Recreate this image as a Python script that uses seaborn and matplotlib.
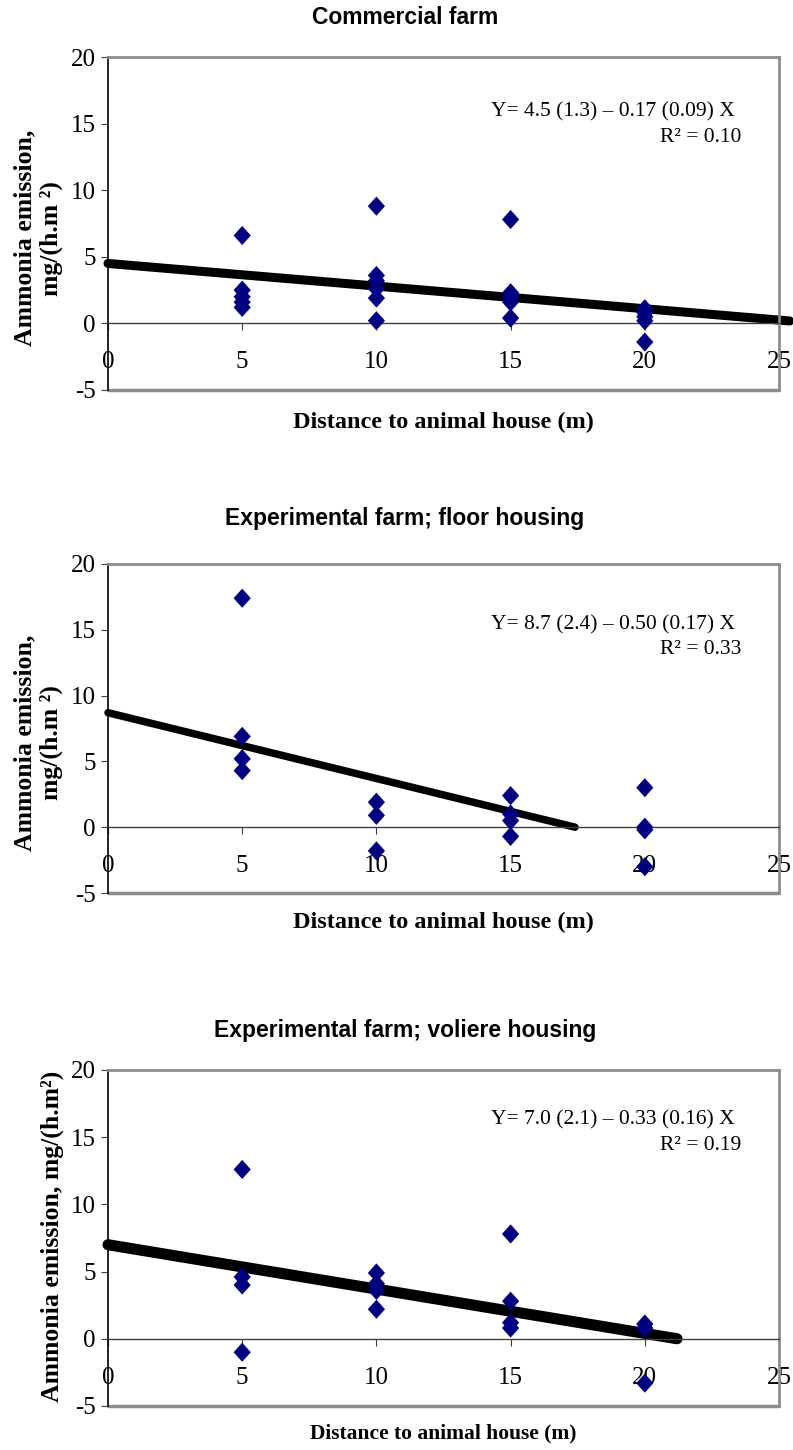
import numpy as np
import pandas as pd
import matplotlib
matplotlib.use('Agg')
import matplotlib.pyplot as plt
from matplotlib.path import Path
from matplotlib.markers import MarkerStyle
import seaborn as sns

sns.set_style('white')
plt.rcParams['font.family'] = ['Liberation Serif', 'DejaVu Serif']
plt.rcParams['axes.unicode_minus'] = False
plt.rcParams.update({'text.color': 'black', 'axes.labelcolor': 'black',
                     'xtick.color': 'black', 'ytick.color': 'black'})

# data
titles = ['Commercial farm',
          'Experimental farm; floor housing',
          'Experimental farm; voliere housing']
equations = ['Y= 4.5 (1.3) – 0.17 (0.09) X',
             'Y= 8.7 (2.4) – 0.50 (0.17) X',
             'Y= 7.0 (2.1) – 0.33 (0.16) X']
r2_labels = ['R² = 0.10', 'R² = 0.33', 'R² = 0.19']
intercepts = [4.5, 8.7, 7.0]
slopes = [-0.17, -0.50, -0.33]
line_end = [25.4, 17.4, 21.2]

commercial_x = [5, 5, 5, 5, 5, 10, 10, 10, 10, 10, 10, 15, 15, 15, 15, 15, 20, 20, 20, 20, 20]
commercial_y = [6.6, 2.5, 2.0, 1.6, 1.2, 8.8, 3.6, 3.2, 2.6, 1.9, 0.2,
                7.8, 2.3, 2.0, 1.6, 0.4, 1.1, 0.8, 0.5, 0.2, -1.4]

floor_x = [5, 5, 5, 5, 10, 10, 10, 15, 15, 15, 15, 20, 20, 20, 20]
floor_y = [17.4, 6.9, 5.2, 4.3, 1.9, 0.9, -1.8, 2.4, 1.0, 0.5, -0.7, 3.0, 0.0, -0.2, -3.0]

voliere_x = [5, 5, 5, 5, 10, 10, 10, 10, 15, 15, 15, 15, 20, 20, 20]
voliere_y = [12.6, 4.6, 4.0, -1.0, 4.9, 4.1, 3.6, 2.2, 7.8, 2.8, 1.2, 0.8, 1.1, 0.8, -3.3]

xs = [commercial_x, floor_x, voliere_x]
ys = [commercial_y, floor_y, voliere_y]

ylabels = ['Ammonia emission,\nmg/(h.m ²)',
           'Ammonia emission,\nmg/(h.m ²)',
           'Ammonia emission, mg/(h.m²)']
xticks = [0, 5, 10, 15, 20, 25]
yticks = [-5, 0, 5, 10, 15, 20]

# layout in pixels (figure is 793 x 1450)
W, H = 793, 1450
ax_left, ax_right = 108, 779
ax_top_bottom = [(57, 390), (564, 893), (1070, 1406)]
title_y = [18, 518, 1030]
eq_y = [(112, 137), (625, 650), (1120, 1145)]
xlabel_y = [422, 922, 1433]
xlabel_size = [17.5, 17.5, 15.5]
ylabel_x = [38, 38, 52]
ylabel_pos = [0.456, 0.456, 0.506]
line_w = [6.5, 5.4, 8]

diamond = MarkerStyle(Path([(0, 1), (0.9, 0), (0, -1), (-0.9, 0), (0, 1)], closed=True))

fig = plt.figure(figsize=(W / 100, H / 100), dpi=100)

for i in range(3):
    top, bottom = ax_top_bottom[i]
    ax = fig.add_axes([ax_left / W, 1 - bottom / H, (ax_right - ax_left) / W, (bottom - top) / H])

    fit = pd.DataFrame({'x': [0, line_end[i]]})
    fit['y'] = intercepts[i] + slopes[i] * fit['x']
    sns.lineplot(data=fit, x='x', y='y', color='black', lw=line_w[i], ax=ax,
                 solid_capstyle='round', clip_on=False, zorder=2)

    df = pd.DataFrame({'x': xs[i], 'y': ys[i]})
    sns.scatterplot(data=df, x='x', y='y', marker=diamond, s=190, color='#000080',
                    edgecolor='none', linewidth=0, ax=ax, zorder=3, clip_on=False)

    ax.set_xlim(0, 25)
    ax.set_ylim(-5, 20)
    ax.set_xticks(xticks)
    ax.set_yticks(yticks)
    ax.set_xticklabels([str(t) for t in xticks])
    ax.set_yticklabels([str(t) for t in yticks])

    ax.spines['bottom'].set_position(('data', 0))
    ax.spines['bottom'].set_color('#404040')
    ax.spines['bottom'].set_linewidth(1.0)
    ax.spines['left'].set_color('black')
    ax.spines['left'].set_linewidth(1.2)
    for s in ['top', 'right']:
        ax.spines[s].set_color('#8c8c8c')
        ax.spines[s].set_linewidth(2)
    ax.axhline(-5, color='#8c8c8c', lw=2.5, clip_on=False, zorder=1)

    ax.tick_params(axis='x', bottom=True, direction='out', length=5, width=0.8,
                   color='#404040', pad=15, labelsize=18)
    ax.tick_params(axis='y', left=True, direction='out', length=5, width=0.8,
                   color='#404040', pad=4, labelsize=18)

    ax.set_xlabel('Distance to animal house (m)', fontsize=xlabel_size[i], fontweight='bold')
    ax.xaxis.set_label_coords(0.5, 1 - (xlabel_y[i] - top) / (bottom - top))
    ax.xaxis.label.set_va('center')

    ax.set_ylabel(ylabels[i], fontsize=18.5, fontweight='bold', linespacing=1.15)
    ax.yaxis.set_label_coords((ylabel_x[i] - ax_left) / (ax_right - ax_left), ylabel_pos[i])
    ax.yaxis.label.set_va('center')

    fig.text(405 / W, 1 - title_y[i] / H, titles[i], ha='center', va='center',
             fontsize=16.5, fontweight='bold', family=['Liberation Sans', 'DejaVu Sans'])
    fig.text(735 / W, 1 - eq_y[i][0] / H, equations[i], ha='right', va='center', fontsize=15.5)
    fig.text(741 / W, 1 - eq_y[i][1] / H, r2_labels[i], ha='right', va='center', fontsize=15.5)

fig.savefig('out.png', dpi=100)
